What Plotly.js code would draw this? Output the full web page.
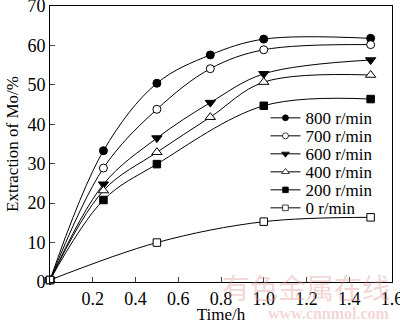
<!DOCTYPE html>
<html><head><meta charset="utf-8">
<script src="https://cdn.plot.ly/plotly-3.0.1.min.js"></script>
<style>html,body{margin:0;padding:0;background:#fff}#chart{width:400px;height:324px}</style>
</head><body><div id="chart"></div>
<script>
const names = ["800 r/min","700 r/min","600 r/min","400 r/min","200 r/min","0 r/min"];
const t800 = [0, 0.25, 0.5, 0.75, 1.0, 1.5];
const y800 = [0.5, 33.3, 50.4, 57.6, 61.6, 61.8];
const t700 = [0, 0.25, 0.5, 0.75, 1.0, 1.5];
const y700 = [0.5, 28.9, 43.8, 54.1, 58.9, 60.2];
const t600 = [0, 0.25, 0.5, 0.75, 1.0, 1.5];
const y600 = [0.5, 24.8, 36.5, 45.5, 52.8, 56.3];
const t400 = [0, 0.25, 0.5, 0.75, 1.0, 1.5];
const y400 = [0.5, 23.2, 32.9, 41.8, 50.7, 52.5];
const t200 = [0, 0.25, 0.5, 1.0, 1.5];
const y200 = [0.5, 20.8, 29.9, 44.7, 46.4];
const t0 = [0, 0.5, 1.0, 1.5];
const y0 = [0.5, 10.0, 15.3, 16.4];
const xTicks = [0.2, 0.4, 0.6, 0.8, 1.0, 1.2, 1.4, 1.6];
const xTickText = ["0.2","0.4","0.6","0.8","1.0","1.2","1.4","1.6"];
const yTicks = [0, 10, 20, 30, 40, 50, 60, 70];

const xs = [t800, t700, t600, t400, t200, t0];
const ys = [y800, y700, y600, y400, y200, y0];
const symbols = ["circle","circle","triangle-down","triangle-up","square","square"];
const fills = ["#000","#fff","#000","#fff","#000","#fff"];
const sizes = [8, 8, 9, 9, 7.5, 7.5];

const traces = names.map((n, i) => ({
  x: xs[i], y: ys[i], name: n, type: "scatter", mode: "lines+markers",
  line: {color: "#000", width: 1, shape: "spline", smoothing: 1},
  marker: {symbol: symbols[i], size: sizes[i], color: fills[i], line: {color: "#000", width: 1}},
  cliponaxis: false
}));

const serif = "Liberation Serif, Times New Roman, serif";
const f = (s) => ({family: serif, size: s, color: "#000"});
const wm = "rgba(225,150,150,0.4)";
const layout = {
  width: 400, height: 324,
  margin: {l: 50, r: 8, t: 6, b: 42},
  paper_bgcolor: "#fff", plot_bgcolor: "#fff",
  font: f(17),
  showlegend: true,
  legend: {x: 0.63, y: 0.66, xanchor: "left", yanchor: "top", bgcolor: "rgba(0,0,0,0)",
           font: f(17), itemwidth: 30, tracegroupgap: 0},
  xaxis: {range: [0, 1.6], tickvals: xTicks, ticktext: xTickText, ticks: "inside", ticklen: 5,
          ticklabeloverflow: "allow",
          showline: true, linecolor: "#000", linewidth: 1, mirror: true, showgrid: false, zeroline: false,
          tickfont: f(18), title: {text: "Time/h", font: f(17), standoff: 3}},
  yaxis: {range: [0, 70], tickvals: yTicks, ticks: "inside", ticklen: 5,
          ticklabeloverflow: "allow",
          showline: true, linecolor: "#000", linewidth: 1, mirror: true, showgrid: false, zeroline: false,
          tickfont: f(18), title: {text: "Extraction of Mo/%", font: f(17), standoff: 4}},
  annotations: [
    {text: "有色金属在线", xref: "paper", yref: "paper", x: 1.0, y: -0.018, xanchor: "right", yanchor: "middle",
     showarrow: false, font: {family: "Noto Sans CJK SC", size: 28, color: wm}},
    {text: "<b>www.cnnmol.com</b>", xref: "paper", yref: "paper", x: 1.0, y: -0.113, xanchor: "right", yanchor: "middle",
     showarrow: false, font: {family: serif, size: 16, color: wm}}
  ]
};
Plotly.newPlot("chart", traces, layout, {displayModeBar: false, staticPlot: true}).then(gd => {
  // tighten legend row spacing to match the reference
  const items = gd.querySelectorAll(".legend .traces");
  items.forEach((g, i) => {
    g.setAttribute("transform", "translate(0," + (18 + i * 18) + ")");
    g.querySelectorAll(".legendpoints path.scatterpts").forEach(p => {
      const tr = p.getAttribute("transform") || "";
      p.setAttribute("transform", tr + " scale(0.75)");
    });
  });
});
</script></body></html>
